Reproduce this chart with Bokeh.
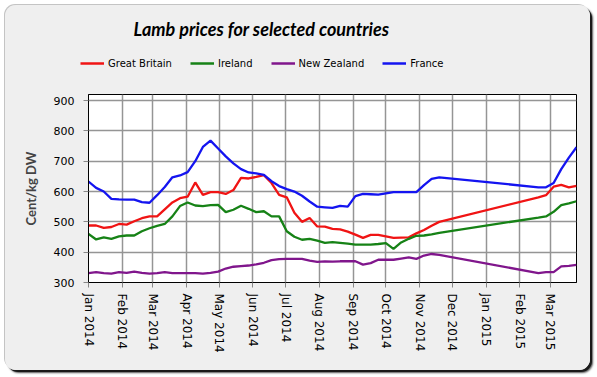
import math
import pandas as pd
from bokeh.plotting import figure
from bokeh.layouts import column
from bokeh.models import (Range1d, FixedTicker, MonthsTicker, DatetimeTickFormatter,
                          Legend, LegendItem, ColumnDataSource, Label)
from bokeh.embed import file_html
from bokeh.resources import INLINE

# ---------------- data (weekly, cent/kg DW) ----------------
dates = [
    "2014-01-01", "2014-01-08", "2014-01-15", "2014-01-22", "2014-01-29",
    "2014-02-05", "2014-02-12", "2014-02-19", "2014-02-26",
    "2014-03-05", "2014-03-12", "2014-03-19", "2014-03-26",
    "2014-04-02", "2014-04-09", "2014-04-16", "2014-04-23", "2014-04-30",
    "2014-05-07", "2014-05-14", "2014-05-21", "2014-05-28",
    "2014-06-04", "2014-06-11", "2014-06-18", "2014-06-25",
    "2014-07-02", "2014-07-09", "2014-07-16", "2014-07-23", "2014-07-30",
    "2014-08-06", "2014-08-13", "2014-08-20", "2014-08-27",
    "2014-09-03", "2014-09-10", "2014-09-17", "2014-09-24",
    "2014-10-01", "2014-10-08", "2014-10-15", "2014-10-22", "2014-10-29",
    "2014-11-05", "2014-11-12", "2014-11-19",
    "2015-02-18", "2015-02-25", "2015-03-04", "2015-03-11", "2015-03-18", "2015-03-25",
]

great_britain = [488, 488, 480, 483, 493, 491, 502, 512, 518, 518, 541, 564, 578,
                 583, 630, 589, 598, 598, 592, 605, 645, 643, 648, 654, 628, 589,
                 581, 530, 500, 513, 485, 484, 477, 475, 468, 458, 447, 457, 457,
                 452, 447, 448, 449, 462, 473, 487, 500,
                 581, 588, 616, 622, 614, 619]

ireland = [460, 442, 449, 444, 452, 455, 455, 469, 479, 487, 493, 518, 552,
           564, 554, 552, 555, 556, 532, 540, 553, 543, 532, 535, 518, 518,
           469, 451, 441, 444, 438, 431, 433, 431, 428, 425, 425, 425, 427,
           430, 411, 432, 444, 454, 455, 459, 464,
           514, 518, 533, 555, 561, 568]

new_zealand = [331, 334, 331, 329, 334, 332, 336, 332, 329, 331, 334, 331, 331,
               331, 331, 329, 332, 336, 346, 352, 354, 356, 360, 365, 374, 377,
               378, 378, 378, 372, 368, 370, 369, 370, 370, 370, 359, 364, 375,
               375, 375, 379, 383, 378, 389, 394, 391,
               331, 334, 334, 353, 355, 358]

france = [633, 612, 600, 576, 574, 573, 573, 565, 563, 588, 615, 647, 653,
          664, 700, 747, 768, 742, 716, 693, 674, 663, 660, 655, 634, 618,
          608, 600, 586, 567, 550, 548, 546, 553, 550, 585, 592, 591, 590,
          594, 598, 598, 598, 598, 621, 642, 647,
          614, 614, 628, 674, 712, 746]

series_names = ["Great Britain", "Ireland", "New Zealand", "France"]
series_values = [great_britain, ireland, new_zealand, france]
series_colors = ["#f01414", "#168216", "#80168c", "#1414f0"]
y_ticks = [300, 400, 500, 600, 700, 800, 900]
title_text = "Lamb prices for selected countries"

BG = "#efefef"
x = pd.to_datetime(dates)
x_start, x_end = pd.Timestamp("2014-01-01"), pd.Timestamp("2015-03-25")

# ---------------- header (title + legend) ----------------
head = figure(width=585, height=87, x_axis_type="datetime",
              output_backend="svg", toolbar_location=None,
              x_range=Range1d(x_start, x_end), y_range=Range1d(0, 1),
              x_axis_location=None, y_axis_location=None,
              min_border=0, min_border_left=0, min_border_right=0,
              min_border_top=0, min_border_bottom=0)
head.frame_align = False
head.title = None
head.grid.visible = False
head.outline_line_color = None
head.background_fill_color = BG
head.border_fill_color = BG

head_renderers = []
for name, vals, col in zip(series_names, series_values, series_colors):
    # same series; they fall outside this header's y-range, only the legend keys show
    r = head.line(x, vals, line_color=col, line_width=2.3)
    head_renderers.append((name, r))

legend = Legend(items=[LegendItem(label=n, renderers=[r]) for n, r in head_renderers],
                orientation="horizontal", location=(75, 23))
legend.label_text_font = "DejaVu Sans"
legend.label_text_font_size = "10px"
legend.label_text_color = "black"
legend.glyph_width = 24
legend.glyph_height = 12
legend.label_height = 12
legend.label_standoff = 4
legend.spacing = 18
legend.padding = 0
legend.margin = 0
legend.background_fill_alpha = 0
legend.border_line_alpha = 0
head.add_layout(legend, "center")

title = Label(x=128, y=64, x_units="screen", y_units="screen", text=title_text,
              text_font="Lato", text_font_style="bold italic", text_font_size="18px",
              text_color="black", text_baseline="alphabetic", text_align="left")
head.add_layout(title)

# ---------------- main chart ----------------
p = figure(width=585, height=278, x_axis_type="datetime",
           output_backend="svg", toolbar_location=None,
           x_range=Range1d(x_start, x_end), y_range=Range1d(300, 920),
           min_border_left=83, min_border_right=14,
           min_border_top=2, min_border_bottom=88)
p.title = None
p.background_fill_color = "white"
p.border_fill_color = BG
p.outline_line_color = "black"
p.outline_line_width = 1

for name, vals, col in zip(series_names, series_values, series_colors):
    src = ColumnDataSource(dict(x=x, y=vals))
    p.line("x", "y", source=src, line_color=col, line_width=2.3)

yax = p.yaxis[0]
yax.ticker = FixedTicker(ticks=y_ticks)
yax.axis_label = "Cent/kg DW"
yax.axis_label_text_font = "Lato"
yax.axis_label_text_font_style = "bold"
yax.axis_label_text_font_size = "13px"
yax.axis_label_standoff = 12
yax.major_label_text_font = "DejaVu Sans"
yax.major_label_text_font_size = "11px"
yax.major_label_text_color = "black"
yax.major_label_standoff = 9
yax.major_tick_out = 5
yax.major_tick_in = 0
yax.minor_tick_line_color = None
yax.major_tick_line_color = "#888888"
yax.axis_line_color = "black"

xax = p.xaxis[0]
xax.ticker = MonthsTicker(months=list(range(12)))
xax.formatter = DatetimeTickFormatter(months="%b %Y", days="%b %Y", years="%b %Y")
xax.major_label_orientation = -math.pi / 2
xax.major_label_text_font = "DejaVu Sans"
xax.major_label_text_font_size = "12px"
xax.major_label_text_color = "black"
xax.major_label_standoff = 6
xax.major_tick_out = 5
xax.major_tick_in = 0
xax.minor_tick_line_color = None
xax.major_tick_line_color = "#888888"
xax.axis_line_color = "black"

for g in (p.xgrid[0], p.ygrid[0]):
    g.grid_line_color = "#959595"
    g.grid_line_width = 1.5

layout = column(head, p, spacing=0)
layout.margin = (5, 7, 7, 5)
layout.styles = {"border-radius": "11px", "overflow": "hidden", "background": BG,
                 "box-shadow": "-1px -1px 0px #c4c4c4, 2px 2px 0px #1a1a1a, 3px 3px 2px #555555"}

open("out.html", "w").write(file_html(layout, INLINE))
